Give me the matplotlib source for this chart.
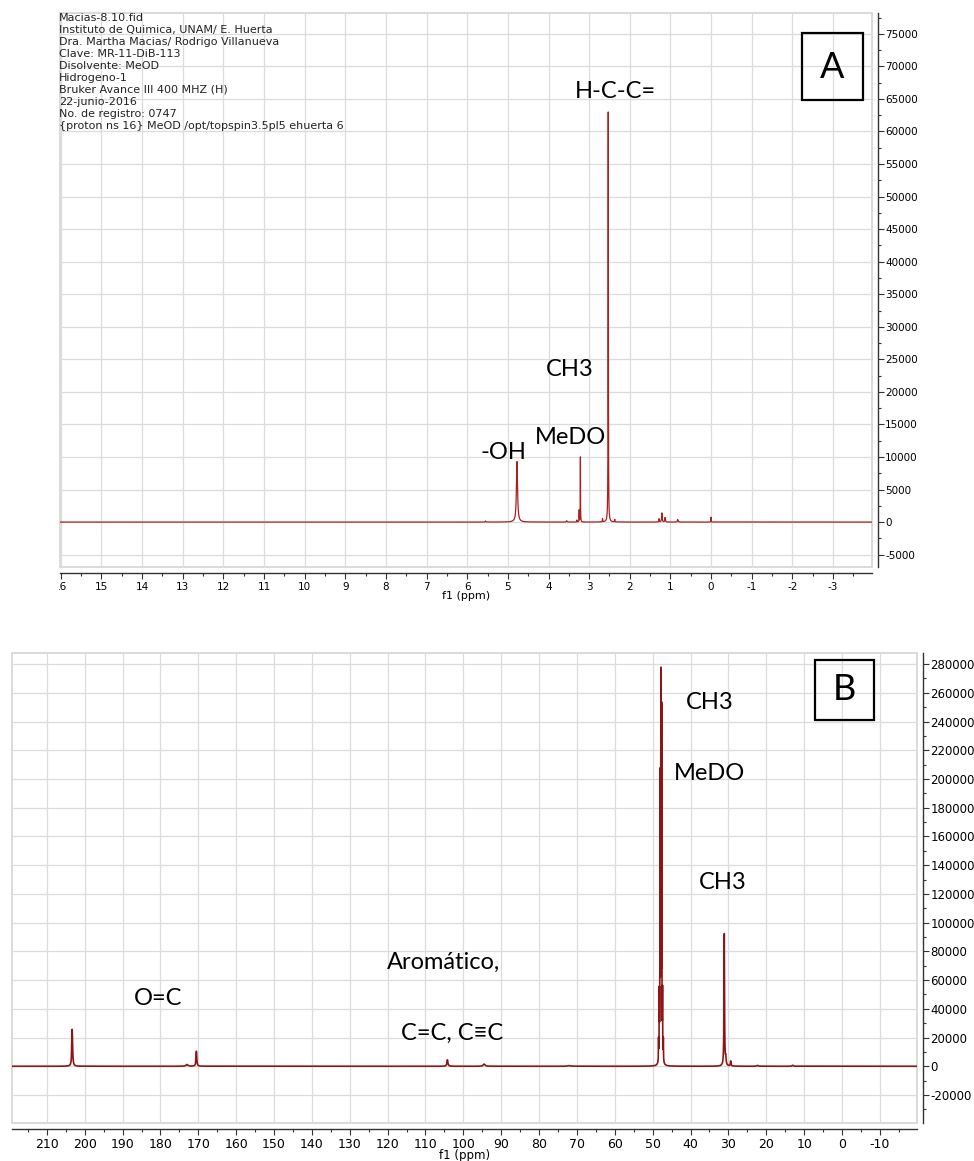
import numpy as np
import matplotlib
matplotlib.use('Agg')
import matplotlib.pyplot as plt
from matplotlib.ticker import MultipleLocator, FuncFormatter
from matplotlib.patches import Rectangle
from matplotlib.transforms import Bbox

plt.rcParams['axes.unicode_minus'] = False

# ---------------- data ----------------
# 1H spectrum (panel A): peak shift (ppm), height, half-width (ppm)
h_shift = [5.55, 4.775, 3.55, 3.30, 3.245, 3.215, 2.67, 2.53, 2.37, 1.28, 1.21, 1.13, 0.82, 0.00]
h_height = [150, 9300, 200, 300, 1800, 10000, 500, 63000, 400, 500, 1400, 700, 400, 750]
h_width = [0.010, 0.016, 0.010, 0.004, 0.003, 0.003, 0.004, 0.004, 0.004, 0.006, 0.008, 0.008, 0.010, 0.004]

# 13C spectrum (panel B)
c_shift = [203.3, 173.0, 170.5, 104.2, 94.5, 72.0,
           48.45, 48.25, 48.04, 47.83, 47.62, 47.40, 47.19,
           31.1, 30.7, 29.4, 22.3, 13.0]
c_height = [25700, 1200, 10400, 4500, 1500, 500,
            15000, 45000, 195000, 262000, 241000, 45000, 15000,
            92000, 5000, 3500, 600, 700]
c_width = [0.12, 0.30, 0.12, 0.15, 0.30, 0.40,
           0.04, 0.04, 0.04, 0.04, 0.04, 0.04, 0.04,
           0.08, 0.10, 0.10, 0.20, 0.20]

info_lines = [
    "Macias-8.10.fid",
    "Instituto de Quimica, UNAM/ E. Huerta",
    "Dra. Martha Macias/ Rodrigo Villanueva",
    "Clave: MR-11-DiB-113",
    "Disolvente: MeOD",
    "Hidrogeno-1",
    "Bruker Avance III 400 MHZ (H)",
    "22-junio-2016",
    "No. de registro: 0747",
    "{proton ns 16} MeOD /opt/topspin3.5pl5 ehuerta 6",
]

top_xlim = (16.02, -3.96)
top_ylim = (-6900, 78200)
bot_xlim = (219.2, -19.8)
bot_ylim = (-39500, 287700)


def spectrum(x, shifts, heights, widths):
    y = np.zeros_like(x)
    for s, h, w in zip(shifts, heights, widths):
        y += h * w**2 / ((x - s)**2 + w**2)
    return y


# ---------------- figure ----------------
W, H = 974, 1161
fig = plt.figure(figsize=(W / 100, H / 100), dpi=100)


def px_axes(l, t, r, b):
    return fig.add_axes([l / W, 1 - b / H, (r - l) / W, (b - t) / H])


def style(ax, xmaj, xmin, ymaj, ymin, xfs, yfs):
    ax.xaxis.set_major_locator(MultipleLocator(xmaj))
    ax.xaxis.set_minor_locator(MultipleLocator(xmin))
    ax.yaxis.set_major_locator(MultipleLocator(ymaj))
    ax.yaxis.set_minor_locator(MultipleLocator(ymin))
    ax.yaxis.set_major_formatter(FuncFormatter(lambda v, p: f"{int(round(v))}"))
    ax.xaxis.set_major_formatter(FuncFormatter(lambda v, p: f"{int(round(v))}"))
    for s in ['left', 'top']:
        ax.spines[s].set_visible(False)
    for s in ['right', 'bottom']:
        ax.spines[s].set_position(('outward', 4))
        ax.spines[s].set_color('#333333')
        ax.spines[s].set_linewidth(1.0)
    ax.yaxis.tick_right()
    ax.tick_params(axis='both', which='major', length=4, width=0.8, color='#333333')
    ax.tick_params(axis='both', which='minor', length=2.5, width=0.8, color='#333333')
    ax.tick_params(axis='x', labelsize=xfs, pad=3)
    ax.tick_params(axis='y', labelsize=yfs, pad=1.5)
    ax.grid(True, which='major', color='#dcdcdc', lw=0.9)
    ax.set_axisbelow(True)
    ax.add_patch(Rectangle((0, 0), 1, 1, transform=ax.transAxes, fill=False,
                           edgecolor='#d4d4d4', lw=1.2, zorder=0.5, clip_on=False))


# ----- panel A -----
axA = px_axes(60, 13, 872, 567)
xA = np.linspace(top_xlim[1], top_xlim[0], 50000)
axA.plot(xA, spectrum(xA, h_shift, h_height, h_width), color='#a82222', lw=0.9)
axA.set_xlim(*top_xlim)
axA.set_ylim(*top_ylim)
style(axA, 1, 0.5, 5000, 2500, 7.5, 7.5)
axA.set_xlabel("f1 (ppm)", fontsize=8, labelpad=-1)

fig.text(59 / W, 1 - 13 / H, "\n".join(info_lines), fontsize=8, va='top', ha='left',
         linespacing=1.25, color='#222222')

lab_font = dict(family=['Lato', 'DejaVu Sans'], fontsize=17, color='black')
axA.text(2.36, 66100, "H-C-C=", ha='center', va='center', **lab_font)
axA.text(3.47, 23400, "CH3", ha='center', va='center', **lab_font)
axA.text(3.47, 13000, "MeDO", ha='center', va='center', **lab_font)
axA.text(5.11, 10750, "-OH", ha='center', va='center', **lab_font)

fig.patches.append(Rectangle((802 / W, 1 - 100 / H), 61 / W, 67 / H, transform=fig.transFigure,
                             fill=False, edgecolor='black', lw=1.6))
fig.text(832.5 / W, 1 - 67 / H, "A", ha='center', va='center',
         family=['Lato', 'DejaVu Sans'], fontsize=26)

# ----- panel B -----
axB = px_axes(12, 653, 917, 1123)
xB = np.linspace(bot_xlim[1], bot_xlim[0], 48000)
axB.plot(xB, spectrum(xB, c_shift, c_height, c_width), color='#8e1515', lw=1.2)
axB.set_xlim(*bot_xlim)
axB.set_ylim(*bot_ylim)
style(axB, 10, 5, 20000, 10000, 9, 8.5)
axB.set_xlabel("f1 (ppm)", fontsize=8.5, labelpad=-1.3)

axB.text(35.0, 253000, "CH3", ha='center', va='center', **lab_font)
axB.text(35.0, 204000, "MeDO", ha='center', va='center', **lab_font)
axB.text(31.4, 128000, "CH3", ha='center', va='center', **lab_font)
axB.text(105.2, 68000, "Aromático,", ha='center', va='baseline', **lab_font)
axB.text(180.6, 47000, "O=C", ha='center', va='center', **lab_font)
axB.text(103.0, 18400, "C=C, C≡C", ha='center', va='baseline', **lab_font)

fig.patches.append(Rectangle((815 / W, 1 - 720 / H), 59 / W, 60 / H, transform=fig.transFigure,
                             fill=False, edgecolor='black', lw=1.6))
fig.text(844.5 / W, 1 - 690 / H, "B", ha='center', va='center',
         family=['Lato', 'DejaVu Sans'], fontsize=26)

# clip the leftmost tick label of panel A at the plot edge
fig.canvas.draw()
clip = Bbox([[59, 0], [W, H]])
for lab in axA.get_xticklabels():
    lab.set_clip_box(clip)
    lab.set_clip_on(True)

fig.savefig("out.png", dpi=100)
